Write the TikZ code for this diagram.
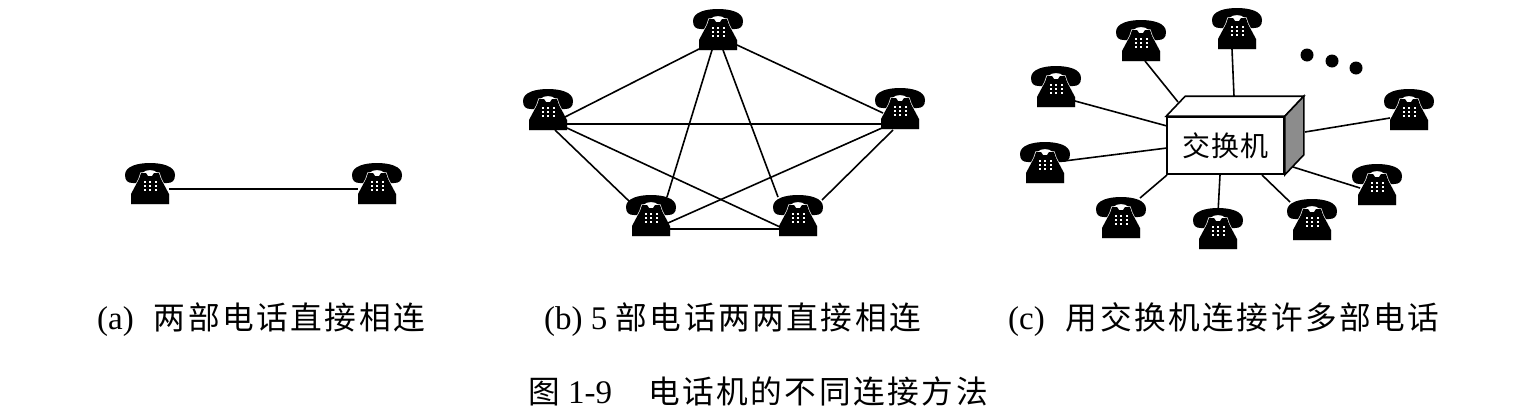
\documentclass[tikz,border=0pt]{standalone}
\usepackage{fontspec}
\setmainfont{Liberation Serif}
\newfontfamily\cjk[Scale=0.96,LetterSpace=8]{Noto Sans CJK SC}
\newfontfamily\cjkbox[LetterSpace=2]{Noto Sans CJK SC}
\tikzset{
  phonebox/.style={minimum width=50pt,minimum height=41pt,inner sep=0pt},
  wire/.style={line width=1.6pt,black},
  caption/.style={anchor=base west,inner sep=0pt,font=\fontsize{33}{36}\selectfont},
  phone/.pic={
    \fill[black] (-25,-14) .. controls (-25,-23) and (-12,-26) .. (0,-26)
      .. controls (12,-26) and (25,-23) .. (25,-14)
      .. controls (25,-8) and (22,-6) .. (17,-6) -- (10,-6)
      .. controls (9,-8) and (9,-13) .. (8,-16)
      .. controls (4,-20) and (-4,-20) .. (-8,-16)
      .. controls (-9,-13) and (-9,-8) .. (-10,-6) -- (-17,-6)
      .. controls (-22,-6) and (-25,-8) .. (-25,-14) -- cycle;
    \draw[white,line width=1.3pt,fill=black] (-19,15) -- (-19,5) -- (-11,-10) -- (-9,-16) -- (-4,-16) -- (-2,-13)
      -- (2,-13) -- (4,-16) -- (9,-16) -- (11,-10) -- (19,5) -- (19,15) -- cycle;
    \fill[black] (-19,15) -- (-19,5) -- (-11,-10) -- (-9,-16) -- (-4,-16) -- (-2,-13)
      -- (2,-13) -- (4,-16) -- (9,-16) -- (11,-10) -- (19,5) -- (19,15) -- cycle;
    \foreach \u in {-5.5,0,5.5} \foreach \v in {-7,-3,1}
      \fill[white] (\u-1,\v-0.7) rectangle (\u+1,\v+0.7);
  },
}
\begin{document}
\begin{tikzpicture}[x=1pt,y=-1pt]
\useasboundingbox[fill=white] (0,0) rectangle (1516,416);
% (a)
\node[phonebox] (a1) at (150,189) {}; \pic at (a1) {phone};
\node[phonebox] (a2) at (377,189) {}; \pic at (a2) {phone};
\draw[wire] ([shift={(19,0)}]a1.center) -- ([shift={(-19,0)}]a2.center);
% (b)
\node[phonebox] (T) at (718,35) {}; \pic at (T) {phone};
\node[phonebox] (L) at (548,115) {}; \pic at (L) {phone};
\node[phonebox] (R) at (900,114) {}; \pic at (R) {phone};
\node[phonebox] (BL) at (651,221) {}; \pic at (BL) {phone};
\node[phonebox] (BR) at (798,221) {}; \pic at (BR) {phone};
\draw[wire] ([shift={(-19,14)}]T.center) -- ([shift={(17,2)}]L.center);
\draw[wire] ([shift={(-6,15)}]T.center) -- ([shift={(16,-24)}]BL.center);
\draw[wire] ([shift={(5,15)}]T.center) -- ([shift={(-20,-24)}]BR.center);
\draw[wire] ([shift={(19,10)}]T.center) -- ([shift={(-17,-1)}]R.center);
\draw[wire] ([shift={(19,9)}]L.center) -- ([shift={(-18,10)}]R.center);
\draw[wire] ([shift={(7,15)}]L.center) -- ([shift={(-21,-19)}]BL.center);
\draw[wire] ([shift={(19,13)}]L.center) -- ([shift={(-18,6)}]BR.center);
\draw[wire] ([shift={(-18,14)}]R.center) -- ([shift={(17,2)}]BL.center);
\draw[wire] ([shift={(-7,16)}]R.center) -- ([shift={(24,-21)}]BR.center);
\draw[wire] ([shift={(18,8)}]BL.center) -- ([shift={(-19,8)}]BR.center);
% (c)
\node[phonebox] (c1) at (1237,34) {}; \pic at (c1) {phone};
\node[phonebox] (c2) at (1141,46) {}; \pic at (c2) {phone};
\node[phonebox] (c3) at (1056,92) {}; \pic at (c3) {phone};
\node[phonebox] (c4) at (1045,168) {}; \pic at (c4) {phone};
\node[phonebox] (c5) at (1121,223) {}; \pic at (c5) {phone};
\node[phonebox] (c6) at (1218,234) {}; \pic at (c6) {phone};
\node[phonebox] (c7) at (1312,225) {}; \pic at (c7) {phone};
\node[phonebox] (c8) at (1377,190) {}; \pic at (c8) {phone};
\node[phonebox] (c9) at (1409,115) {}; \pic at (c9) {phone};
\node[draw,line width=1.6pt,fill=white,minimum width=117pt,minimum height=57pt,inner sep=0pt,font=\cjkbox\fontsize{28}{32}\selectfont] (sw) at (1225.5,145.5) {\raisebox{-3pt}{交换机}};
\coordinate (swt) at ([shift={(19,-20)}]sw.north west);
\coordinate (swu) at ([shift={(19,-20)}]sw.north east);
\coordinate (swv) at ([shift={(19,-20)}]sw.south east);
\draw[line width=1.6pt,fill=white] (sw.north west) -- (swt) -- (swu) -- (sw.north east) -- cycle;
\draw[line width=1.6pt,fill=black!45] (sw.north east) -- (swu) -- (swv) -- (sw.south east) -- cycle;
\coordinate (w1) at (1234,96);
\coordinate (w2) at (1178,102);
\coordinate (w3) at (1167,126);
\coordinate (w4) at (1167,148);
\coordinate (w5) at (1167,175);
\coordinate (w6) at (1220,175);
\coordinate (w7) at (1262,175);
\coordinate (w8) at (1293,167);
\coordinate (w9) at (1305,132);
\draw[wire] ([shift={(-5,15)}]c1.center) -- (w1);
\draw[wire] ([shift={(4,15)}]c2.center) -- (w2);
\draw[wire] ([shift={(19,9)}]c3.center) -- (w3);
\draw[wire] ([shift={(19,-7)}]c4.center) -- (w4);
\draw[wire] ([shift={(19,-25)}]c5.center) -- (w5);
\draw[wire] ([shift={(0,-21)}]c6.center) -- (w6);
\draw[wire] ([shift={(-22,-23)}]c7.center) -- (w7);
\draw[wire] ([shift={(-17,-2)}]c8.center) -- (w8);
\draw[wire] ([shift={(-19,3)}]c9.center) -- (w9);
\node[circle,fill=black,inner sep=0pt,minimum size=13pt] (d1) at (1307,55) {};
\node[circle,fill=black,inner sep=0pt,minimum size=13pt] (d2) at (1332,61) {};
\node[circle,fill=black,inner sep=0pt,minimum size=13pt] (d3) at (1356,68) {};
% captions
\node[caption] (ca) at (97,329) {(a)\hspace{20pt}{\cjk 两部电话直接相连}};
\node[caption] (cb) at (544,329) {(b) 5 {\cjk 部电话两两直接相连}};
\node[caption] (cc) at (1008,329) {(c)\hspace{21pt}{\cjk 用交换机连接许多部电话}};
\node[caption] (cap) at (528,403) {{\cjk 图} 1-9\hspace{36pt}{\cjk 电话机的不同连接方法}};
\end{tikzpicture}
\end{document}
